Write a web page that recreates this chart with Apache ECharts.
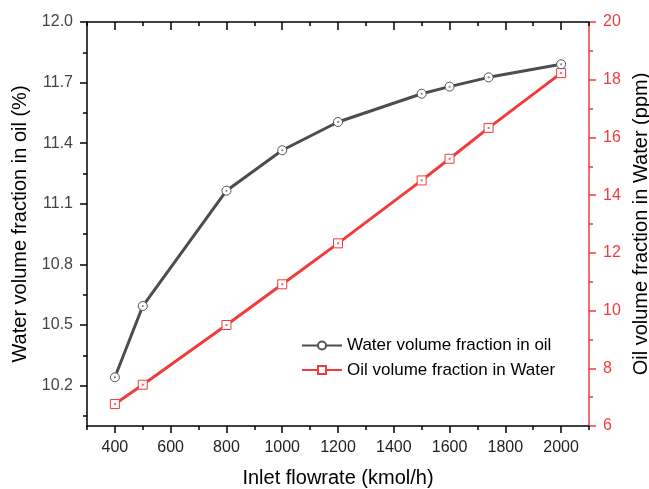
<!DOCTYPE html>
<html>
<head>
<meta charset="utf-8">
<script src="https://cdn.jsdelivr.net/npm/echarts@6/dist/echarts.min.js"></script>
<style>
html,body{margin:0;padding:0;background:#fff;}
#c{width:649px;height:489px;}
</style>
</head>
<body>
<div id="c"></div>
<script>
var flowrate = [400, 500, 800, 1000, 1200, 1500, 1600, 1740, 2000];
var waterInOil = [10.241, 10.594, 11.165, 11.365, 11.505, 11.645, 11.680, 11.726, 11.791];
var oilInWater = [6.76, 7.43, 9.50, 10.91, 12.33, 14.51, 15.26, 16.33, 18.23];
var xMajor = [400, 600, 800, 1000, 1200, 1400, 1600, 1800, 2000];
var xMinor = [300, 500, 700, 900, 1100, 1300, 1500, 1700, 1900, 2100];
var yLeftMajor = [10.2, 10.5, 10.8, 11.1, 11.4, 11.7, 12.0];
var yLeftMinor = [10.05, 10.35, 10.65, 10.95, 11.25, 11.55, 11.85];

var FONT = 'Liberation Sans, Arial, sans-serif';
var GRAY = '#4d4d4d';
var RED = '#f23c3c';

function pairs(xs, ys){ return xs.map(function(x,i){ return [x, ys[i]]; }); }

var chart = echarts.init(document.getElementById('c'), null, {renderer:'canvas'});
var grid = {left:87, right:60, top:22, bottom:63, containLabel:false, outerBoundsMode:'none'};

function xAx(pos, ticks, len, inside, showLine, showLabel){
  return {
    type:'value', position:pos, min:300, max:2100, interval:100,
    axisLine:{show:showLine, onZero:false, lineStyle:{color:'#000', width:1.5}},
    axisTick:{show:true, inside:inside, length:len, customValues:ticks, lineStyle:{color:'#000', width:1.5}},
    axisLabel:{show:showLabel, customValues:xMajor, margin:14, color:'#222', fontSize:16, fontFamily:FONT,
      formatter:function(v){ return String(v); }},
    splitLine:{show:false}
  };
}

var option = {
  animation:false,
  backgroundColor:'#fff',
  grid:grid,
  legend:{
    orient:'vertical', left:296, top:332, itemWidth:40, itemHeight:10, itemGap:7.5,
    textStyle:{fontSize:17, fontFamily:FONT, color:'#000'},
    data:['Water volume fraction in oil','Oil volume fraction in Water']
  },
  xAxis:[
    Object.assign(xAx('bottom', xMajor, 7, false, true, true), {
      name:'Inlet flowrate (kmol/h)', nameLocation:'middle', nameGap:42,
      nameTextStyle:{fontSize:20, fontFamily:FONT, color:'#000'}
    }),
    xAx('bottom', xMinor, 4, false, false, false),
    xAx('top', xMajor, 8, true, true, false),
    xAx('top', xMinor, 4, true, false, false)
  ],
  yAxis:[
    {
      type:'value', position:'left', min:10, max:12,
      name:'Water volume fraction in oil (%)', nameLocation:'middle', nameGap:49, nameRotate:90,
      nameTextStyle:{fontSize:20, fontFamily:FONT, color:'#000'},
      axisLine:{show:true, onZero:false, lineStyle:{color:'#000', width:1.5}},
      axisTick:{show:true, length:7, customValues:yLeftMajor, lineStyle:{color:'#000', width:1.5}},
      axisLabel:{customValues:yLeftMajor, margin:14, color:'#444', fontSize:16, fontFamily:FONT,
        formatter:function(v){ return v.toFixed(1); }},
      splitLine:{show:false}
    },
    {
      type:'value', position:'left', min:10, max:12,
      axisLine:{show:false},
      axisTick:{show:true, length:4, customValues:yLeftMinor, lineStyle:{color:'#000', width:1.5}},
      axisLabel:{show:false},
      splitLine:{show:false}
    },
    {
      type:'value', position:'right', min:6, max:20, interval:2,
      name:'Oil volume fraction in Water (ppm)', nameLocation:'middle', nameGap:39, nameRotate:90,
      nameTextStyle:{fontSize:20, fontFamily:FONT, color:'#000'},
      axisLine:{show:true, onZero:false, lineStyle:{color:RED, width:1.5}},
      axisTick:{show:true, length:7, lineStyle:{color:RED, width:1.5}},
      minorTick:{show:true, splitNumber:2, length:4, lineStyle:{color:RED, width:1.5}},
      axisLabel:{margin:14, color:RED, fontSize:16, fontFamily:FONT},
      splitLine:{show:false}
    }
  ],
  series:[
    {
      name:'Water volume fraction in oil', type:'line', xAxisIndex:0, yAxisIndex:0,
      data:pairs(flowrate, waterInOil),
      symbol:'circle', symbolSize:9, showAllSymbol:true,
      lineStyle:{color:GRAY, width:3},
      itemStyle:{color:'#fff', borderColor:'#555', borderWidth:1},
      z:3
    },
    {
      name:'Oil volume fraction in Water', type:'line', xAxisIndex:0, yAxisIndex:2,
      data:pairs(flowrate, oilInWater),
      symbol:'rect', symbolSize:9, showAllSymbol:true,
      lineStyle:{color:RED, width:3},
      itemStyle:{color:'#fff', borderColor:RED, borderWidth:1},
      z:2
    },
    {
      type:'scatter', xAxisIndex:0, yAxisIndex:0, data:pairs(flowrate, waterInOil),
      symbol:'circle', symbolSize:2, itemStyle:{color:'#555'}, silent:true, z:4
    },
    {
      type:'scatter', xAxisIndex:0, yAxisIndex:2, data:pairs(flowrate, oilInWater),
      symbol:'rect', symbolSize:2, itemStyle:{color:RED}, silent:true, z:4
    }
  ]
};
chart.setOption(option);
</script>
</body>
</html>
